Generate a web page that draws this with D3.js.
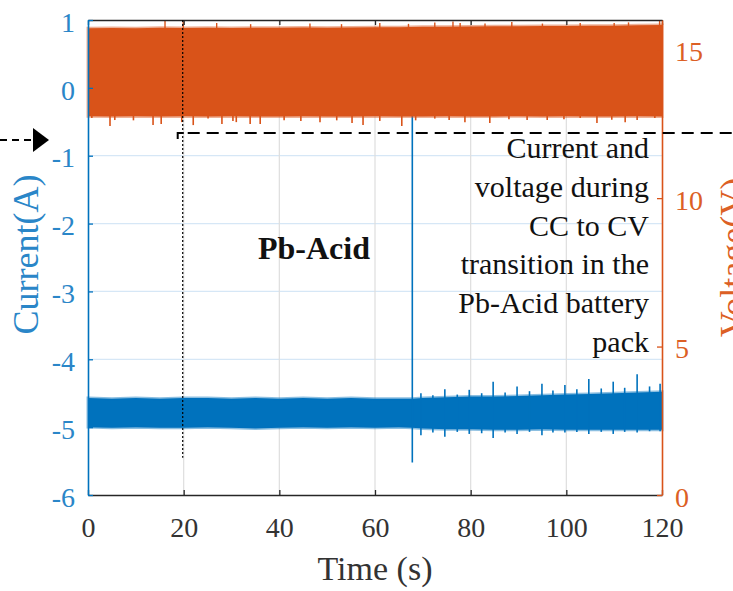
<!DOCTYPE html>
<html>
<head>
<meta charset="utf-8">
<script src="https://cdn.jsdelivr.net/npm/d3@7"></script>
<style>
  body { margin: 0; background: #fff; }
  svg { display: block; }
  svg text { font-family: "Liberation Serif", "Times New Roman", serif; }
</style>
</head>
<body>
<svg id="chart"></svg>
<script>
// ---- data ----
var timeTicks = [0, 20, 40, 60, 80, 100, 120]
var currentTicks = [-6, -5, -4, -3, -2, -1, 0, 1]
var voltageTicks = [0, 5, 10, 15]

// current band envelope (A)
var curT = [0, 5, 10, 15, 20, 25, 30, 35, 40, 45, 50, 55, 60, 65, 67.8, 70, 75, 80, 85, 90, 95, 100, 105, 110, 115, 120]
var curUpper = [-4.57, -4.58, -4.57, -4.58, -4.57, -4.57, -4.58, -4.57, -4.58, -4.57, -4.58, -4.57, -4.58, -4.58, -4.58, -4.57, -4.56, -4.55, -4.55, -4.54, -4.53, -4.52, -4.51, -4.50, -4.49, -4.48]
var curLower = [-5.00, -5.01, -5.00, -5.01, -5.01, -5.00, -5.01, -5.02, -5.01, -5.00, -5.01, -5.00, -5.01, -5.00, -5.01, -5.02, -5.03, -5.03, -5.04, -5.04, -5.03, -5.04, -5.04, -5.04, -5.04, -5.04]
// current spikes after the transition
var curSpikeT = [69.6, 72.1, 74.6, 77.2, 79.7, 82.3, 84.7, 87.2, 89.7, 92.3, 94.9, 97.2, 99.7, 102.2, 104.7, 107.3, 109.8, 112.2, 114.8, 117.4, 119.6]
var curSpikeHi = [-4.50, -4.53, -4.44, -4.52, -4.45, -4.50, -4.33, -4.49, -4.40, -4.47, -4.36, -4.46, -4.38, -4.44, -4.29, -4.43, -4.33, -4.42, -4.22, -4.40, -4.36]
var curSpikeLo = [-5.12, -5.08, -5.14, -5.07, -5.10, -5.09, -5.16, -5.08, -5.10, -5.07, -5.12, -5.08, -5.08, -5.07, -5.10, -5.07, -5.10, -5.07, -5.08, -5.06, -5.06]
// single transient at the CC -> CV switch
var transientT = 67.8
var transientTop = -0.3
var transientBottom = -5.52

// voltage band envelope (V)
var voltT = [0, 5, 10, 15, 20, 25, 30, 35, 40, 45, 50, 55, 60, 65, 70, 75, 80, 85, 90, 95, 100, 105, 110, 115, 120]
var voltUpper = [15.72, 15.73, 15.72, 15.74, 15.73, 15.74, 15.73, 15.74, 15.74, 15.75, 15.74, 15.75, 15.76, 15.76, 15.77, 15.77, 15.78, 15.79, 15.79, 15.80, 15.80, 15.81, 15.81, 15.82, 15.83]
var voltLower = [12.76, 12.75, 12.76, 12.75, 12.76, 12.75, 12.76, 12.75, 12.75, 12.76, 12.75, 12.75, 12.76, 12.75, 12.75, 12.76, 12.75, 12.75, 12.76, 12.75, 12.76, 12.75, 12.75, 12.76, 12.75]
var voltDipT = [0.8, 4.6, 5.6, 9.5, 13.6, 15.3, 19.6, 22, 25.1, 28, 30.3, 31, 33.9, 36, 41, 44.5, 48.5, 52, 55.2, 57.5, 61, 65.6, 68.5, 72.5, 75.5, 78.8, 84, 88, 91.8, 96, 99.5, 102.9, 106.4, 109.5, 112.3, 114.8, 118.5]
var voltDipV = [12.70, 12.43, 12.63, 12.62, 12.46, 12.50, 12.56, 12.46, 12.68, 12.50, 12.60, 12.56, 12.50, 12.50, 12.62, 12.60, 12.56, 12.62, 12.53, 12.46, 12.60, 12.43, 12.62, 12.68, 12.63, 12.56, 12.53, 12.66, 12.63, 12.63, 12.66, 12.70, 12.53, 12.64, 12.56, 12.63, 12.70]
var voltPeakT = [16.1, 19.9, 26.9, 34, 46.4, 53, 61, 67, 72.5, 76.3, 77.8, 83, 88.6, 95, 102.9, 110, 113, 119.5]
var voltPeakV = [16.0, 15.95, 15.9, 15.86, 15.88, 15.86, 15.9, 15.87, 15.92, 15.95, 15.9, 15.88, 15.93, 15.88, 15.9, 15.9, 15.92, 15.98]

// ---- layout ----
var dimensions = {
  width: 733,
  height: 591,
  margin: { top: 20, bottom: 96, right: 71, left: 88 }
}
var blue = "#0072BD"
var blueText = "#2a86c8"
var orange = "#D95319"
var orangeText = "#dc5f25"
var axisGray = "#262626"
var serif = "Liberation Serif"
var font = 28

var svg = d3.select("#chart")
  .attr("width", dimensions.width)
  .attr("height", dimensions.height)

var x0 = dimensions.margin.left
var x1 = dimensions.width - dimensions.margin.right
var y0 = dimensions.height - dimensions.margin.bottom
var y1 = dimensions.margin.top

var xScale = d3.scaleLinear().domain([0, 120]).range([x0, x1])
var yLeft = d3.scaleLinear().domain([-6, 1]).range([y0, y1])
var yRight = d3.scaleLinear().domain([0, 16]).range([y0, y1])

// grid
var grid = svg.append("g")
grid.selectAll(".hgrid")
  .data(currentTicks.filter(d => d > -6 && d < 1))
  .enter().append("line")
  .attr("x1", x0).attr("x2", x1)
  .attr("y1", d => yLeft(d)).attr("y2", d => yLeft(d))
  .attr("stroke", "#d6e7f6").attr("stroke-width", 1.2)
grid.selectAll(".vgrid")
  .data(timeTicks.filter(d => d > 0 && d < 120))
  .enter().append("line")
  .attr("x1", d => xScale(d)).attr("x2", d => xScale(d))
  .attr("y1", y1).attr("y2", y0)
  .attr("stroke", "#dedede").attr("stroke-width", 1.2)

// current (left axis)
var curData = curT.map((t, i) => ({ t: t, hi: curUpper[i], lo: curLower[i] }))
var curArea = d3.area()
  .x(d => xScale(d.t))
  .y0(d => yLeft(d.lo))
  .y1(d => yLeft(d.hi))
svg.append("path")
  .datum(curData)
  .attr("d", curArea)
  .attr("fill", blue)
  .attr("stroke", blue)
  .attr("stroke-opacity", 0.45)
  .attr("stroke-width", 3)

svg.selectAll(".curSpike")
  .data(curSpikeT)
  .enter().append("line")
  .attr("x1", d => xScale(d)).attr("x2", d => xScale(d))
  .attr("y1", (d, i) => yLeft(curSpikeHi[i]))
  .attr("y2", (d, i) => yLeft(curSpikeLo[i]))
  .attr("stroke", blue).attr("stroke-width", 1.6)

svg.append("line")
  .attr("x1", xScale(transientT)).attr("x2", xScale(transientT))
  .attr("y1", yLeft(transientTop)).attr("y2", yLeft(transientBottom))
  .attr("stroke", blue).attr("stroke-width", 1.6)

// voltage (right axis)
var voltData = voltT.map((t, i) => ({ t: t, hi: voltUpper[i], lo: voltLower[i] }))
var voltArea = d3.area()
  .x(d => xScale(d.t))
  .y0(d => yRight(d.lo))
  .y1(d => yRight(d.hi))
svg.append("path")
  .datum(voltData)
  .attr("d", voltArea)
  .attr("fill", orange)
  .attr("stroke", orange)
  .attr("stroke-opacity", 0.45)
  .attr("stroke-width", 3)

svg.selectAll(".dip")
  .data(voltDipT)
  .enter().append("line")
  .attr("x1", d => xScale(d)).attr("x2", d => xScale(d))
  .attr("y1", yRight(12.8))
  .attr("y2", (d, i) => yRight(voltDipV[i]))
  .attr("stroke", orange).attr("stroke-width", 1.6)
svg.selectAll(".peak")
  .data(voltPeakT)
  .enter().append("line")
  .attr("x1", d => xScale(d)).attr("x2", d => xScale(d))
  .attr("y1", yRight(15.7))
  .attr("y2", (d, i) => yRight(voltPeakV[i]))
  .attr("stroke", orange).attr("stroke-width", 1.4)

// axes
var fmt = d => String(d)
var xAxis = svg.append("g")
  .attr("transform", `translate(0,${y0})`)
  .call(d3.axisBottom(xScale).tickValues(timeTicks).tickFormat(fmt).tickSize(-5).tickSizeOuter(0).tickPadding(22))
var xTop = svg.append("g")
  .attr("transform", `translate(0,${y1})`)
  .call(d3.axisTop(xScale).tickValues(timeTicks).tickFormat("").tickSize(-5).tickSizeOuter(0))
var yAxisL = svg.append("g")
  .attr("transform", `translate(${x0},0)`)
  .call(d3.axisLeft(yLeft).tickValues(currentTicks).tickFormat(fmt).tickSize(-5).tickSizeOuter(0).tickPadding(13))
var yAxisR = svg.append("g")
  .attr("transform", `translate(${x1},0)`)
  .call(d3.axisRight(yRight).tickValues(voltageTicks).tickFormat(fmt).tickSize(-5).tickSizeOuter(0).tickPadding(13))

;[xAxis, xTop, yAxisL, yAxisR].forEach(a => {
  a.attr("font-family", serif).attr("font-size", font)
  a.selectAll("text").style("font-family", serif).style("font-size", font + "px")
})
;[xAxis, xTop].forEach(a => {
  a.select(".domain").attr("stroke", axisGray).attr("stroke-width", 1.6)
  a.selectAll(".tick line").attr("stroke", axisGray).attr("stroke-width", 1.3)
})
xAxis.selectAll("text").attr("fill", "#333")
yAxisL.select(".domain").attr("stroke", blue).attr("stroke-width", 1.6)
yAxisL.selectAll(".tick line").attr("stroke", blue).attr("stroke-width", 1.3)
yAxisL.selectAll("text").attr("fill", blueText).attr("dy", "0.4em")
yAxisR.select(".domain").attr("stroke", orange).attr("stroke-width", 1.6)
yAxisR.selectAll(".tick line").attr("stroke", orange).attr("stroke-width", 1.3)
yAxisR.selectAll("text").attr("fill", orangeText).attr("dy", "0.4em")

// axis titles
svg.append("text")
  .attr("transform", `translate(38,${(y0 + y1) / 2 - 3}) rotate(-90)`)
  .attr("text-anchor", "middle")
  .attr("font-size", 36)
  .attr("fill", blueText)
  .text("Current(A)")
svg.append("text")
  .attr("transform", `translate(745,${(y0 + y1) / 2}) rotate(-90)`)
  .attr("text-anchor", "middle")
  .attr("font-size", 36)
  .attr("fill", orangeText)
  .text("Voltage(V)")
svg.append("text")
  .attr("x", (x0 + x1) / 2)
  .attr("y", 580)
  .attr("text-anchor", "middle")
  .attr("font-size", 34)
  .attr("fill", "#333")
  .text("Time (s)")

// annotations
var markT = 19.8
svg.append("line")
  .attr("x1", xScale(markT)).attr("x2", xScale(markT))
  .attr("y1", y1).attr("y2", yLeft(-5.45))
  .attr("stroke", "#000").attr("stroke-width", 1.2)
  .attr("stroke-dasharray", "2,2")

var annY = yLeft(-0.665)
svg.append("path")
  .attr("d", `M${xScale(markT) - 5},${annY + 6}V${annY}H${xScale(markT) + 1}`)
  .attr("fill", "none").attr("stroke", "#000").attr("stroke-width", 2)
svg.append("line")
  .attr("x1", xScale(markT) + 5).attr("x2", dimensions.width)
  .attr("y1", annY).attr("y2", annY)
  .attr("stroke", "#000").attr("stroke-width", 2)
  .attr("stroke-dasharray", "12,7")

svg.append("line")
  .attr("x1", 0).attr("x2", 34)
  .attr("y1", 140).attr("y2", 140)
  .attr("stroke", "#000").attr("stroke-width", 2)
  .attr("stroke-dasharray", "7,5")
svg.append("path")
  .attr("d", "M33,128L49,140L33,152Z")
  .attr("fill", "#000")

svg.append("text")
  .attr("x", 314).attr("y", 259)
  .attr("text-anchor", "middle")
  .attr("font-size", 32)
  .attr("font-weight", "bold")
  .attr("fill", "#111")
  .text("Pb-Acid")

var noteLines = ["Current and", "voltage during", "CC to CV", "transition in the", "Pb-Acid battery", "pack"]
svg.selectAll(".note")
  .data(noteLines)
  .enter().append("text")
  .attr("x", 649)
  .attr("y", (d, i) => 158 + i * 38.8)
  .attr("text-anchor", "end")
  .attr("font-size", 30)
  .attr("fill", "#111")
  .text(d => d)
</script>
</body>
</html>
